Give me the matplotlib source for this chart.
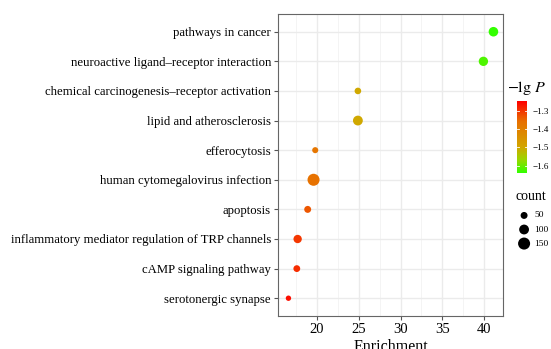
import numpy as np
import matplotlib
matplotlib.use("Agg")
import matplotlib.pyplot as plt
from matplotlib.colors import LinearSegmentedColormap, Normalize

plt.rcParams['font.family'] = ['Liberation Serif', 'DejaVu Serif']
plt.rcParams['mathtext.fontset'] = 'stix'

# data
pathways = ["pathways in cancer",
            "neuroactive ligand\u2013receptor interaction",
            "chemical carcinogenesis\u2013receptor activation",
            "lipid and atherosclerosis",
            "efferocytosis",
            "human cytomegalovirus infection",
            "apoptosis",
            "inflammatory mediator regulation of TRP channels",
            "cAMP signaling pathway",
            "serotonergic synapse"]
enrichment = [41.1, 39.9, 24.9, 24.9, 19.8, 19.6, 18.9, 17.7, 17.6, 16.6]
lgp = [-1.64, -1.62, -1.50, -1.50, -1.37, -1.36, -1.33, -1.30, -1.29, -1.26]
count = [95, 90, 45, 100, 38, 150, 50, 72, 48, 30]

legend_counts = [50, 100, 150]
cbar_ticks = [-1.3, -1.4, -1.5, -1.6]


def size_of(c):
    return 0.5 * np.asarray(c, dtype=float)


cmap = LinearSegmentedColormap.from_list(
    "gr", [(0.0, "#33FF00"), (0.18, "#99D800"), (0.36, "#D2A600"),
           (0.72, "#E87000"), (1.0, "#FF0000")])
norm = Normalize(vmin=-1.64, vmax=-1.245)

fig = plt.figure(figsize=(5.51, 3.49), dpi=100)
ax = fig.add_axes([0.5045, 0.0946, 0.4085, 0.8654])

ypos = np.arange(len(pathways))[::-1] + 1
ax.scatter(enrichment, ypos, s=size_of(count), c=lgp, cmap=cmap, norm=norm,
           zorder=3, linewidths=0)

ax.set_xlim(15.35, 42.25)
ax.set_ylim(0.4, 10.6)
ax.set_yticks(ypos)
ax.set_yticklabels(pathways, fontsize=9.2)
ax.set_xticks([20, 25, 30, 35, 40])
ax.set_xticks([17.5, 22.5, 27.5, 32.5, 37.5], minor=True)
ax.tick_params(axis='x', labelsize=10.5, length=3, color="#555555", pad=2)
ax.tick_params(axis='y', length=3, color="#555555", pad=2)
ax.tick_params(which='minor', length=0)
ax.grid(True, which='major', color="#EBEBEB", lw=1.0, zorder=0)
ax.grid(True, which='minor', axis='x', color="#F2F2F2", lw=0.6, zorder=0)
ax.set_axisbelow(True)
for sp in ax.spines.values():
    sp.set_color("#666666")
    sp.set_linewidth(0.8)
ax.set_xlabel("Enrichment", fontsize=11.5, labelpad=2)

# colour bar
cax = fig.add_axes([517 / 551, 1 - 173 / 349, 10 / 551, 72 / 349])
grad = np.linspace(-1.64, -1.245, 200).reshape(-1, 1)
cax.imshow(grad, aspect='auto', cmap=cmap, norm=norm, origin='lower',
           extent=[0, 1, -1.64, -1.245])
cax.set_xticks([])
cax.yaxis.tick_right()
cax.set_yticks(cbar_ticks)
cax.set_yticklabels(["\u22121.3", "\u22121.4", "\u22121.5", "\u22121.6"], fontsize=6.5)
cax.tick_params(axis='y', length=0, pad=4)
for t in cbar_ticks:
    cax.plot([0, 0.2], [t, t], color="white", lw=0.6)
    cax.plot([0.8, 1], [t, t], color="white", lw=0.6)
cax.set_xlim(0, 1)
cax.set_ylim(-1.64, -1.245)
for sp in cax.spines.values():
    sp.set_visible(False)
fig.text(507 / 551, 1 - 88 / 349, r"$-\mathrm{lg}\ P$", fontsize=11.5, va='center')

# size legend
lax = fig.add_axes([513 / 551, 1 - 252 / 349, 38 / 551, 45 / 349])
ly = [3, 2, 1]
lax.scatter([0.35] * 3, ly, s=size_of(legend_counts), color="black", linewidths=0)
for y, c in zip(ly, legend_counts):
    lax.text(0.68, y, str(c), fontsize=6.8, va='center')
lax.set_xlim(0, 1.2)
lax.set_ylim(0.4, 3.6)
lax.axis('off')
fig.text(516 / 551, 1 - 197 / 349, "count", fontsize=10, va='center')

fig.savefig("out.png", dpi=100)
